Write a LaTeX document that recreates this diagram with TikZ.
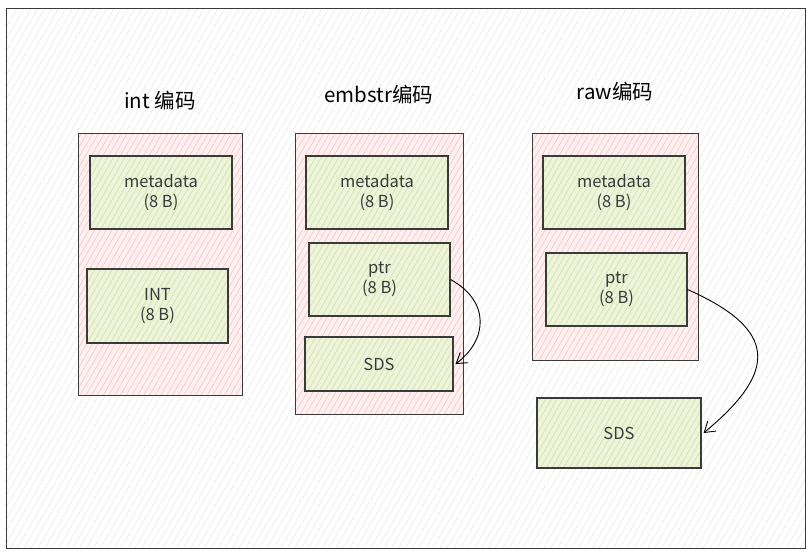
\documentclass[tikz,border=0pt]{standalone}
\usepackage{fontspec}
\setmainfont{Noto Sans CJK SC}
\usetikzlibrary{patterns.meta,arrows.meta}
\definecolor{edge}{HTML}{3A3A3A}
\definecolor{pinkfill}{HTML}{FDF0F0}
\definecolor{pinkline}{HTML}{FBC8C8}
\definecolor{greenfill}{HTML}{EEF3DC}
\definecolor{greenline}{HTML}{D3E4A8}
\definecolor{bgline}{HTML}{E9E9E9}
\tikzset{
  container/.style={draw=edge, line width=1pt, inner sep=0pt,
    preaction={fill=pinkfill},
    pattern={Lines[angle=60,distance=5pt,line width=0.7pt]}, pattern color=pinkline},
  cell/.style={draw=edge, line width=1.1pt, inner sep=0pt, align=center,
    font=\fontsize{16.5}{20}\selectfont, text=edge,
    preaction={fill=greenfill},
    pattern={Lines[angle=60,distance=5pt,line width=0.7pt]}, pattern color=greenline},
  title/.style={font=\fontsize{20.5}{24}\selectfont, text=black},
  link/.style={draw=black, line width=0.9pt, -{Straight Barb[length=10pt,width=13pt]}}
}
\begin{document}
\begin{tikzpicture}[x=1pt,y=-1pt]
\useasboundingbox (0,0) rectangle (811,554);
\node[draw=edge, line width=0.8pt, inner sep=0pt, minimum width=799pt, minimum height=540pt,
  preaction={fill=white},
  pattern={Lines[angle=60,distance=6pt,line width=0.6pt]}, pattern color=bgline] (frame) at (405.5,278) {};
% titles
\node[title] (t1) at (160,101) {int 编码};
\node[title] (t2) at (379,95) {embstr编码};
\node[title] (t3) at (615,92) {raw编码};
% containers
\node[container, minimum width=164pt, minimum height=262pt] (c1) at (160,264) {};
\node[container, minimum width=168pt, minimum height=281pt] (c2) at (379,273.5) {};
\node[container, minimum width=166pt, minimum height=227pt] (c3) at (615,246.5) {};
% cells
\node[cell, minimum width=142pt, minimum height=73pt] (m1) at (161,192.5) {metadata\\(8 B)};
\node[cell, minimum width=141pt, minimum height=74pt] (i1) at (157.5,306) {INT\\(8 B)};
\node[cell, minimum width=142pt, minimum height=73pt] (m2) at (377,192.5) {metadata\\(8 B)};
\node[cell, minimum width=141pt, minimum height=73pt] (p2) at (379.5,279.5) {ptr\\(8 B)};
\node[cell, minimum width=148pt, minimum height=54pt] (s2) at (379,364) {SDS};
\node[cell, minimum width=142pt, minimum height=73pt] (m3) at (614,192.5) {metadata\\(8 B)};
\node[cell, minimum width=141pt, minimum height=73pt] (p3) at (616.5,289.5) {ptr\\(8 B)};
\node[cell, minimum width=164pt, minimum height=70pt] (s3) at (619,433) {SDS};
% arrows
\draw[link] (p2.east) .. controls +(40,22) and +(32,-24) .. ([xshift=2pt]s2.east);
\draw[link] (p3.east) .. controls +(90,40) and +(75,-62) .. ([xshift=2pt]s3.east);
\end{tikzpicture}
\end{document}
